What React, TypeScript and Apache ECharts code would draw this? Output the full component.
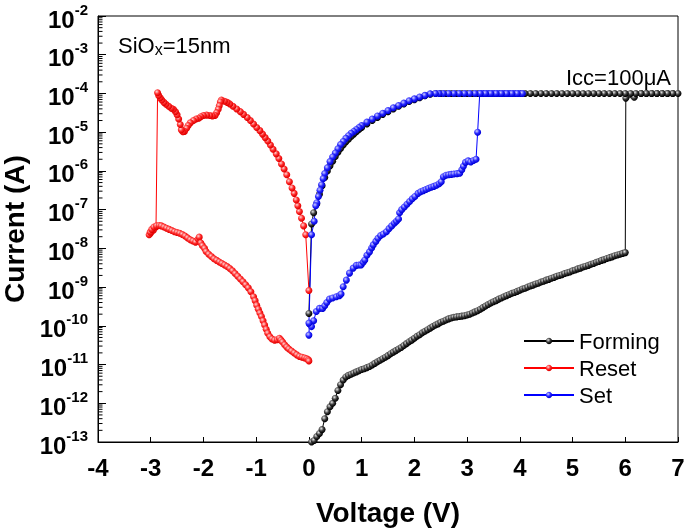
import React, { useEffect, useRef } from 'react';
import * as echarts from 'echarts';

// Values are read off the reference. Currents are stored as log10(I / A),
// the y axis is drawn in decades (10^n labels).
const ICC_LOG = -4; // compliance 100 µA

const formingUp: [number, number][] = [
  [0.05,-13.00],[0.10,-12.96],[0.15,-12.86],[0.20,-12.78],[0.25,-12.68],[0.30,-12.40],[0.35,-12.22],[0.40,-12.09],[0.45,-12.00],[0.50,-11.87],
  [0.55,-11.67],[0.60,-11.52],[0.65,-11.40],[0.70,-11.32],[0.75,-11.28],[0.80,-11.25],[0.85,-11.22],[0.90,-11.19],[0.95,-11.16],[1.00,-11.13],
  [1.05,-11.11],[1.10,-11.08],[1.15,-11.05],[1.20,-11.01],[1.25,-10.97],[1.30,-10.93],[1.35,-10.89],[1.40,-10.85],[1.45,-10.81],[1.50,-10.77],
  [1.55,-10.72],[1.60,-10.68],[1.65,-10.64],[1.70,-10.60],[1.75,-10.56],[1.80,-10.51],[1.85,-10.46],[1.90,-10.41],[1.95,-10.37],[2.00,-10.32],
  [2.05,-10.27],[2.10,-10.23],[2.15,-10.18],[2.20,-10.14],[2.25,-10.10],[2.30,-10.06],[2.35,-10.02],[2.40,-9.98],[2.45,-9.95],[2.50,-9.91],
  [2.55,-9.88],[2.60,-9.85],[2.65,-9.82],[2.70,-9.80],[2.75,-9.78],[2.80,-9.77],[2.85,-9.76],[2.90,-9.75],[2.95,-9.74],[3.00,-9.72],
  [3.05,-9.70],[3.10,-9.67],[3.15,-9.64],[3.20,-9.61],[3.25,-9.57],[3.30,-9.53],[3.35,-9.49],[3.40,-9.45],[3.45,-9.41],[3.50,-9.38],
  [3.55,-9.35],[3.60,-9.31],[3.65,-9.28],[3.70,-9.25],[3.75,-9.22],[3.80,-9.19],[3.85,-9.16],[3.90,-9.14],[3.95,-9.11],[4.00,-9.08],
  [4.05,-9.05],[4.10,-9.03],[4.15,-9.00],[4.20,-8.97],[4.25,-8.95],[4.30,-8.92],[4.35,-8.90],[4.40,-8.87],[4.45,-8.85],[4.50,-8.82],
  [4.55,-8.80],[4.60,-8.77],[4.65,-8.75],[4.70,-8.72],[4.75,-8.70],[4.80,-8.68],[4.85,-8.65],[4.90,-8.63],[4.95,-8.61],[5.00,-8.58],
  [5.05,-8.56],[5.10,-8.53],[5.15,-8.51],[5.20,-8.48],[5.25,-8.46],[5.30,-8.44],[5.35,-8.41],[5.40,-8.39],[5.45,-8.36],[5.50,-8.34],
  [5.55,-8.31],[5.60,-8.29],[5.65,-8.26],[5.70,-8.24],[5.75,-8.22],[5.80,-8.19],[5.85,-8.17],[5.90,-8.15],[5.95,-8.13],[6.00,-8.11],
];
const formingJump: [number, number][] = [[6.01,-4.12],[6.17,-4.10]];
const formingIccV: number[] = [
  6.3,6.4,6.5,6.6,6.7,6.8,6.9,7.0,6.9,6.8,6.7,6.6,6.5,6.4,6.3,6.2,6.1,6.0,5.9,5.8,5.7,5.6,5.5,5.4,5.3,5.2,5.1,5.0,
  4.9,4.8,4.7,4.6,4.5,4.4,4.3,4.2,4.1,4.0,3.9,3.8,3.7,3.6,3.5,3.4,3.3,3.2,3.1,3.0,2.9,2.8,2.7,2.6,2.5,
];
const formingDown: [number, number][] = [
  [2.40,-4.00],[2.30,-4.02],[2.20,-4.06],[2.10,-4.11],[2.00,-4.16],[1.90,-4.21],[1.80,-4.27],[1.70,-4.33],[1.60,-4.40],[1.50,-4.47],
  [1.40,-4.54],[1.30,-4.62],[1.20,-4.70],[1.10,-4.79],[1.00,-4.88],[0.95,-4.93],[0.90,-4.99],[0.85,-5.05],[0.80,-5.11],[0.75,-5.18],
  [0.70,-5.25],[0.65,-5.33],[0.60,-5.42],[0.55,-5.52],[0.50,-5.63],[0.45,-5.75],[0.40,-5.87],[0.35,-6.00],[0.30,-6.17],[0.25,-6.38],
  [0.20,-6.60],[0.15,-6.85],[0.09,-7.08],[0.05,-7.37],[0.00,-9.68],
];

const resetNeg: [number, number][] = [
  [0.00,-9.09],[-0.06,-7.65],[-0.10,-7.42],[-0.14,-7.22],[-0.18,-7.05],[-0.21,-6.90],[-0.24,-6.75],[-0.28,-6.58],[-0.32,-6.44],[-0.37,-6.28],
  [-0.42,-6.10],[-0.47,-5.95],[-0.52,-5.82],[-0.57,-5.68],[-0.62,-5.56],[-0.68,-5.44],[-0.73,-5.33],[-0.78,-5.23],[-0.83,-5.14],[-0.88,-5.05],
  [-0.93,-4.96],[-0.99,-4.88],[-1.05,-4.79],[-1.11,-4.70],[-1.17,-4.62],[-1.24,-4.54],[-1.30,-4.47],[-1.37,-4.40],[-1.44,-4.33],[-1.50,-4.27],
  [-1.55,-4.23],[-1.60,-4.20],[-1.66,-4.17],[-1.68,-4.22],[-1.70,-4.32],[-1.72,-4.41],[-1.75,-4.50],[-1.78,-4.57],[-1.83,-4.58],[-1.88,-4.57],
  [-1.94,-4.56],[-2.00,-4.57],[-2.05,-4.60],[-2.09,-4.64],[-2.14,-4.66],[-2.19,-4.70],[-2.25,-4.76],[-2.29,-4.83],[-2.32,-4.90],[-2.36,-4.98],
  [-2.39,-4.99],[-2.42,-4.94],[-2.44,-4.80],[-2.47,-4.66],[-2.50,-4.55],[-2.53,-4.47],[-2.57,-4.41],[-2.61,-4.38],[-2.66,-4.33],[-2.71,-4.28],
  [-2.75,-4.23],[-2.79,-4.17],[-2.82,-4.11],[-2.85,-4.05],[-2.87,-3.98],
];
const resetBack: [number, number][] = [
  [-2.90,-7.45],[-2.95,-7.53],[-3.00,-7.60],[-3.03,-7.65],[-3.01,-7.58],[-2.98,-7.51],[-2.94,-7.45],[-2.89,-7.42],[-2.84,-7.41],[-2.80,-7.42],
  [-2.75,-7.45],[-2.70,-7.48],[-2.65,-7.51],[-2.60,-7.54],[-2.55,-7.57],[-2.50,-7.59],[-2.45,-7.61],[-2.40,-7.64],[-2.35,-7.68],[-2.30,-7.73],
  [-2.25,-7.78],[-2.20,-7.81],[-2.15,-7.84],[-2.10,-7.76],[-2.08,-7.71],[-2.05,-7.86],[-2.02,-7.93],[-1.98,-8.00],[-1.95,-8.08],[-1.90,-8.15],
  [-1.85,-8.21],[-1.80,-8.27],[-1.75,-8.31],[-1.70,-8.35],[-1.65,-8.39],[-1.60,-8.43],[-1.55,-8.47],[-1.50,-8.52],[-1.45,-8.58],[-1.40,-8.65],
  [-1.35,-8.72],[-1.30,-8.79],[-1.25,-8.86],[-1.20,-8.94],[-1.15,-9.02],[-1.10,-9.12],[-1.05,-9.25],[-1.02,-9.35],[-0.99,-9.47],[-0.96,-9.57],
  [-0.93,-9.67],[-0.90,-9.76],[-0.87,-9.87],[-0.84,-9.98],[-0.81,-10.09],[-0.78,-10.19],[-0.74,-10.28],[-0.70,-10.34],[-0.65,-10.37],[-0.60,-10.36],
  [-0.56,-10.32],[-0.53,-10.37],[-0.50,-10.42],[-0.46,-10.49],[-0.42,-10.55],[-0.38,-10.60],[-0.33,-10.65],[-0.28,-10.70],[-0.23,-10.75],[-0.18,-10.79],
  [-0.13,-10.81],[-0.08,-10.83],[-0.04,-10.85],[-0.01,-10.88],[0.00,-10.91],
];

const setUp: [number, number][] = [
  [0.00,-10.24],[0.01,-9.95],[0.05,-10.02],[0.09,-9.87],[0.14,-9.63],[0.20,-9.55],[0.26,-9.55],[0.30,-9.48],[0.34,-9.40],[0.39,-9.31],
  [0.45,-9.28],[0.52,-9.25],[0.58,-9.22],[0.61,-9.18],[0.65,-8.99],[0.71,-8.82],[0.77,-8.64],[0.84,-8.51],[0.90,-8.44],[0.95,-8.43],
  [0.99,-8.43],[1.03,-8.36],[1.06,-8.30],[1.10,-8.18],[1.15,-8.09],[1.19,-7.99],[1.22,-7.91],[1.27,-7.82],[1.31,-7.74],[1.36,-7.67],
  [1.41,-7.63],[1.47,-7.57],[1.52,-7.49],[1.57,-7.42],[1.62,-7.35],[1.66,-7.30],[1.70,-7.24],[1.72,-7.08],[1.76,-7.00],[1.81,-6.93],
  [1.86,-6.86],[1.91,-6.79],[1.96,-6.72],[2.01,-6.66],[2.07,-6.58],[2.12,-6.54],[2.17,-6.51],[2.22,-6.48],[2.27,-6.45],[2.32,-6.42],
  [2.37,-6.40],[2.42,-6.37],[2.47,-6.33],[2.51,-6.28],[2.55,-6.15],[2.60,-6.11],[2.65,-6.10],[2.70,-6.09],[2.75,-6.08],[2.81,-6.07],
  [2.86,-6.06],[2.90,-5.97],[2.93,-5.88],[2.97,-5.78],[3.02,-5.74],[3.07,-5.77],[3.12,-5.73],[3.17,-5.70],[3.20,-5.00],[3.24,-4.00],
];
const setIccV: number[] = [
  3.3,3.4,3.5,3.6,3.7,3.8,3.9,4.0,4.05,3.95,3.85,3.75,3.65,3.55,3.45,3.35,3.25,3.15,3.05,2.95,2.85,2.75,2.65,2.55,2.47,
];
const setDown: [number, number][] = [
  [2.40,-4.00],[2.30,-4.01],[2.20,-4.05],[2.10,-4.09],[2.00,-4.14],[1.90,-4.19],[1.80,-4.25],[1.70,-4.31],[1.60,-4.37],[1.50,-4.44],
  [1.40,-4.51],[1.30,-4.58],[1.20,-4.66],[1.10,-4.74],[1.00,-4.83],[0.95,-4.88],[0.90,-4.93],[0.85,-4.98],[0.80,-5.03],[0.75,-5.09],
  [0.70,-5.16],[0.65,-5.24],[0.60,-5.32],[0.55,-5.43],[0.50,-5.54],[0.45,-5.64],[0.40,-5.76],[0.35,-5.92],[0.30,-6.07],[0.27,-6.20],
  [0.24,-6.36],[0.21,-6.50],[0.18,-6.66],[0.15,-6.82],[0.13,-6.90],[0.10,-7.30],[0.05,-7.65],[0.00,-9.93],
];

const xMin = -4, xMax = 7;
const decadeMin = -13, decadeMax = -2;
const seriesNames = ['Forming', 'Reset', 'Set'];

const FONT = '"Liberation Sans", Arial, Helvetica, sans-serif';

function ball(light: string, mid: string, dark: string) {
  return {
    type: 'radial', x: 0.38, y: 0.35, r: 0.62,
    colorStops: [
      { offset: 0, color: light },
      { offset: 0.55, color: mid },
      { offset: 1, color: dark },
    ],
  };
}

export default function App() {
  const ref = useRef<HTMLDivElement>(null);
  useEffect(() => {
    if (!ref.current) return;
    const chart = echarts.init(ref.current, undefined, { renderer: 'svg' });

    const forming = [
      ...formingUp,
      ...formingJump,
      ...formingIccV.map((v) => [v, ICC_LOG] as [number, number]),
      ...formingDown,
    ];
    const reset = [...resetNeg, ...resetBack];
    const set = [...setUp, ...setIccV.map((v) => [v, ICC_LOG] as [number, number]), ...setDown];

    // minor ticks of the logarithmic axis (2..9 x 10^n)
    const minor: number[][] = [];
    for (let e = decadeMin; e < decadeMax; e++) {
      for (let k = 2; k <= 9; k++) minor.push([xMin, e + Math.log10(k)]);
    }

    const mk = (name: string, data: number[][], color: string, fill: any, size: number) => ({
      name,
      type: 'line',
      data,
      symbol: 'circle',
      symbolSize: size,
      showAllSymbol: true,
      lineStyle: { color, width: 1 },
      itemStyle: { color: fill, borderWidth: 0 },
      emphasis: { disabled: true },
      z: 3,
    });

    chart.setOption({
      animation: false,
      grid: {
        left: 98, right: 7, top: 16, bottom: 87,
        outerBoundsMode: 'none',
        containLabel: false,
        show: true, borderColor: '#000', borderWidth: 1, backgroundColor: 'transparent',
      },
      legend: {
        data: seriesNames,
        orient: 'vertical',
        left: 518,
        top: 325,
        itemWidth: 50,
        itemHeight: 8,
        itemGap: 5,
        textStyle: { fontSize: 22, color: '#000', fontFamily: FONT },
      },
      xAxis: {
        type: 'value',
        min: xMin,
        max: xMax,
        interval: 1,
        name: 'Voltage (V)',
        nameLocation: 'middle',
        nameGap: 56,
        nameTextStyle: { fontSize: 28, fontWeight: 'bold', color: '#000', fontFamily: FONT },
        axisLine: { onZero: false, lineStyle: { color: '#000', width: 1 } },
        axisTick: { inside: true, length: 5, lineStyle: { color: '#000' } },
        axisLabel: { fontSize: 24, fontWeight: 'bold', color: '#000', fontFamily: FONT, margin: 13 },
        splitLine: { show: false },
      },
      yAxis: {
        type: 'value',
        min: decadeMin,
        max: decadeMax,
        interval: 1,
        name: 'Current (A)',
        nameLocation: 'middle',
        nameGap: 63,
        nameTextStyle: { fontSize: 28, fontWeight: 'bold', color: '#000', fontFamily: FONT },
        axisLine: { onZero: false, lineStyle: { color: '#000', width: 1 } },
        axisTick: { inside: true, length: 8, lineStyle: { color: '#000' } },
        axisLabel: {
          margin: 10,
          formatter: (v: number) => '{b|10}{s|' + v + '}',
          rich: {
            b: { fontSize: 24, fontWeight: 'bold', color: '#000', fontFamily: FONT, padding: [6, 0, 0, 0] },
            s: { fontSize: 15, fontWeight: 'bold', color: '#000', fontFamily: FONT, padding: [0, 0, 14, 0] },
          },
        },
        splitLine: { show: false },
      },
      graphic: [
        {
          type: 'text',
          x: 118,
          y: 45,
          style: {
            text: '{n|SiO}{x|x}{n|=15nm}',
            fill: '#000',
            verticalAlign: 'middle',
            rich: {
              n: { fontSize: 22, fontFamily: FONT, color: '#000' },
              x: { fontSize: 16, fontFamily: FONT, color: '#000', padding: [9, 0, 0, 0] },
            },
          },
        },
        {
          type: 'text',
          x: 671,
          y: 77,
          style: {
            text: 'Icc=100μA',
            fill: '#000',
            fontSize: 22,
            fontFamily: FONT,
            align: 'right',
            verticalAlign: 'middle',
          },
        },
      ],
      series: [
        {
          name: 'minorTicks',
          type: 'custom',
          data: minor,
          silent: true,
          clip: false,
          z: 5,
          renderItem: (params: any, api: any) => {
            const p = api.coord([api.value(0), api.value(1)]);
            return {
              type: 'line',
              shape: { x1: p[0], y1: p[1], x2: p[0] + 4.5, y2: p[1] },
              style: { stroke: '#000', lineWidth: 1 },
            };
          },
        },
        mk('Forming', forming, '#000000', ball('#e6e6e6', '#3a3a3a', '#000000'), 7),
        mk('Reset', reset, '#ff0000', ball('#ffd8d8', '#ff2a2a', '#e00000'), 7),
        mk('Set', set, '#0000ff', ball('#d0d0ff', '#2a2aff', '#0000d8'), 7),
      ],
    });
    return () => chart.dispose();
  }, []);
  return <div ref={ref} style={{ position: 'fixed', left: 0, top: 0, width: 685, height: 529 }} />;
}
